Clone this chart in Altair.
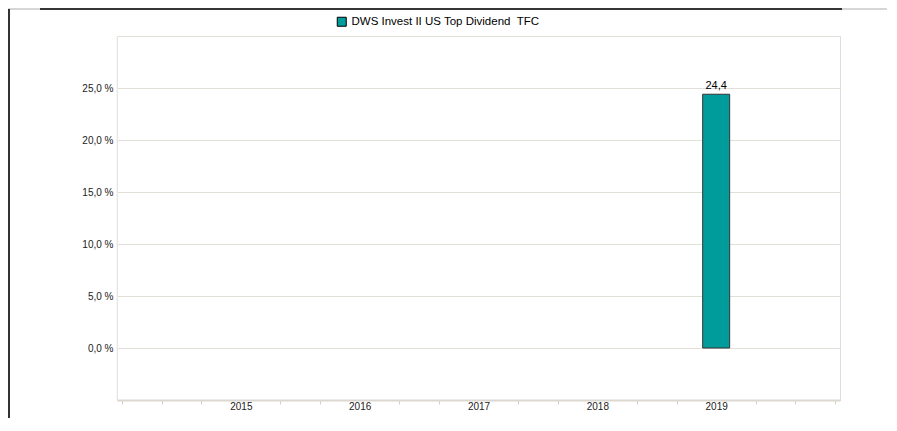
import altair as alt
import pandas as pd

years = [2015, 2016, 2017, 2018, 2019]
values = [None, None, None, None, 24.4]
series_name = "DWS Invest II US Top Dividend \u00a0TFC"
y_tick_values = [-5, 0, 5, 10, 15, 20, 25, 30]
x_tick_values = [2014 + i / 3 for i in range(19)]

df = pd.DataFrame({"year": years, "value": values, "series": [series_name] * len(years)})

FONT = "Liberation Sans"
is_year_label = "abs(datum.value - round(datum.value)) < 0.01 && datum.value > 2014.5 && datum.value < 2019.5"

x_enc = alt.X(
    "year:Q",
    scale=alt.Scale(domain=[2014, 2020], nice=False, zero=False),
    axis=alt.Axis(
        values=x_tick_values,
        tickCount=100,
        labelExpr=f"{is_year_label} ? format(round(datum.value), 'd') : ''",
        tickOpacity={"condition": {"test": is_year_label, "value": 0}, "value": 1},
        grid=False,
        domainColor="#dcd8d0",
        domainWidth=2,
        tickColor="#d4d0c8",
        tickSize=4,
        tickWidth=1,
        labelFontSize=10,
        labelColor="#222222",
        labelPadding=-3,
        labelFlush=False,
        labelOverlap=False,
        title=None,
    ),
)

y_enc = alt.Y(
    "value:Q",
    scale=alt.Scale(domain=[-5, 30], nice=False, zero=False),
    axis=alt.Axis(
        values=y_tick_values,
        tickCount=100,
        labelExpr="datum.value < 0 || datum.value > 27 ? '' : replace(format(datum.value, '.1f'), '.', ',') + ' %'",
        domain=False,
        ticks=False,
        gridColor="#e2dfd8",
        gridWidth=1,
        labelPadding=4,
        labelFontSize=10,
        labelColor="#222222",
        labelOverlap=False,
        title=None,
    ),
)

base = alt.Chart(df).transform_filter("isValid(datum.value)")

bars = base.mark_bar(size=27, stroke="#333333", strokeWidth=1).encode(
    x=x_enc,
    y=y_enc,
    color=alt.Color(
        "series:N",
        scale=alt.Scale(range=["#009c9c"]),
        legend=alt.Legend(
            title=None,
            orient="none",
            legendX=219,
            legendY=-20,
            symbolType="square",
            symbolSize=81,
            symbolStrokeColor="#000000",
            symbolStrokeWidth=1,
            labelFontSize=11.5,
            labelColor="#000000",
            labelFont=FONT,
            labelLimit=0,
        ),
    ),
)

labels = base.transform_calculate(
    lab="replace(format(datum.value, '.1f'), '.', ',')"
).mark_text(baseline="bottom", dy=-3, fontSize=11, color="#000000", font=FONT).encode(
    x=x_enc, y=y_enc, text="lab:N"
)

one = alt.Data(values=[{}])
top_grey = alt.Chart(one).mark_rule(color="#c8c8c8", strokeWidth=1.5).encode(
    x=alt.value(-109), x2=alt.value(772), y=alt.value(-27)
)
top_black = alt.Chart(one).mark_rule(color="#000000", strokeWidth=1.5).encode(
    x=alt.value(-77), x2=alt.value(725), y=alt.value(-27)
)
left_line = alt.Chart(one).mark_rule(color="#333333", strokeWidth=2).encode(
    x=alt.value(-108), y=alt.value(-27), y2=alt.value(382)
)
plot_left_edge = alt.Chart(one).mark_rule(color="#f0eeea", strokeWidth=1).encode(
    x=alt.value(0), y=alt.value(0), y2=alt.value(364)
)

chart = (
    alt.layer(top_grey, top_black, left_line, plot_left_edge, bars, labels)
    .properties(
        width=723,
        height=364,
        padding={"left": 109, "top": 28, "right": 47, "bottom": 18},
        autosize=alt.AutoSizeParams(type="none"),
    )
    .configure_view(strokeWidth=0, stroke="transparent")
    .configure(font=FONT)
)

chart.save("out.html", embed_options={"renderer": "svg", "actions": False})
